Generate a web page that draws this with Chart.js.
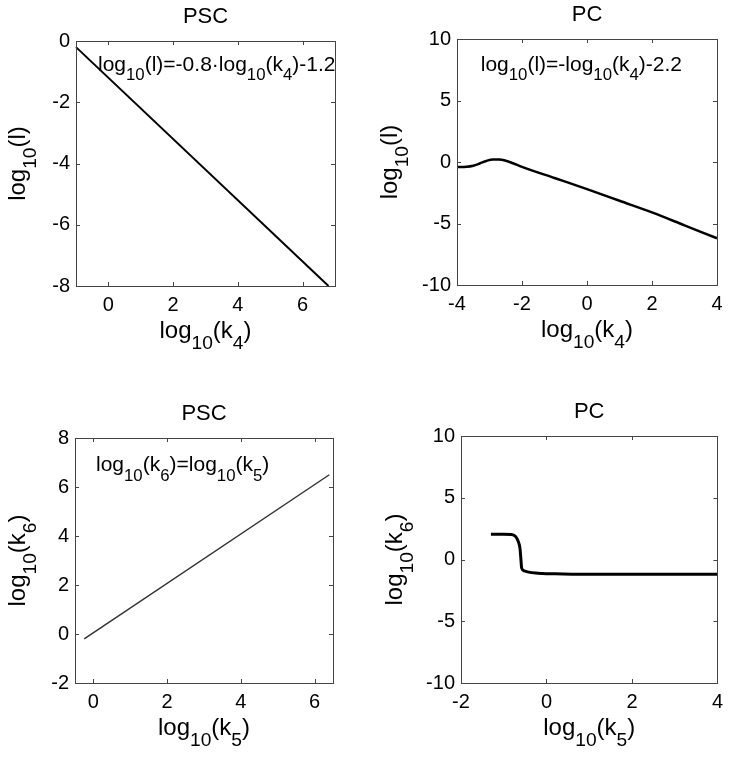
<!DOCTYPE html>
<html><head><meta charset="utf-8">
<script src="https://cdn.jsdelivr.net/npm/chart.js@4/dist/chart.umd.min.js"></script>
<style>
html,body{margin:0;padding:0;background:#fff;}
#wrap{position:relative;width:730px;height:757px;}
.cv{position:absolute;}
</style></head>
<body><div id="wrap">
<canvas id="c1" class="cv" width="365" height="378" style="left:0;top:0;width:365px;height:378px"></canvas>
<canvas id="c2" class="cv" width="365" height="378" style="left:365px;top:0;width:365px;height:378px"></canvas>
<canvas id="c3" class="cv" width="365" height="379" style="left:0;top:378px;width:365px;height:379px"></canvas>
<canvas id="c4" class="cv" width="365" height="379" style="left:365px;top:378px;width:365px;height:379px"></canvas>
</div>
<script>
// ---------- data ----------
const titles = ['PSC', 'PC', 'PSC', 'PC'];
const xTitles = ['log_{10}(k_{4})', 'log_{10}(k_{4})', 'log_{10}(k_{5})', 'log_{10}(k_{5})'];
const yTitles = ['log_{10}(l)', 'log_{10}(l)', 'log_{10}(k_{6})', 'log_{10}(k_{6})'];
const notes = ['log_{10}(l)=-0.8·log_{10}(k_{4})-1.2', 'log_{10}(l)=-log_{10}(k_{4})-2.2', 'log_{10}(k_{6})=log_{10}(k_{5})', ''];

const psc1X = [-1, 6.8];
const psc1Y = [-0.2, -8];
const pc1X = [-4, -3.7, -3.5, -3.3, -3.1, -2.9, -2.7, -2.5, -2.3, -2.0, -1.0, 0, 1, 2, 3, 4];
const pc1Y = [-0.4, -0.38, -0.3, -0.12, 0.08, 0.2, 0.2, 0.1, -0.08, -0.4, -1.3, -2.2, -3.15, -4.1, -5.15, -6.2];
const psc2X = [-0.25, 6.4];
const psc2Y = [-0.2, 6.5];
const pc2X = [-1.3, -1.0, -0.82, -0.72, -0.66, -0.62, -0.60, -0.58, -0.52, -0.42, -0.25, -0.1, 0.2, 0.6, 1.0, 2.0, 3.0, 4.0];
const pc2Y = [2.05, 2.05, 2.02, 1.85, 1.45, 0.9, 0.1, -0.7, -0.92, -1.02, -1.1, -1.13, -1.16, -1.19, -1.2, -1.2, -1.2, -1.2];

const xTicks1 = [0, 2, 4, 6];
const yTicks1 = [-8, -6, -4, -2, 0];
const xTicks2 = [-4, -2, 0, 2, 4];
const yTicks2 = [-10, -5, 0, 5, 10];
const xTicks3 = [0, 2, 4, 6];
const yTicks3 = [-2, 0, 2, 4, 6, 8];
const xTicks4 = [-2, 0, 2, 4];
const yTicks4 = [-10, -5, 0, 5, 10];

// ---------- layout / style ----------
const FAM = '"Liberation Sans", Arial, Helvetica, sans-serif';
const YW = 50, XH = 50;

function parseRich(s) {
  const parts = []; const re = /_\{([^}]*)\}/g; let last = 0, m;
  while ((m = re.exec(s))) {
    if (m.index > last) parts.push({t: s.slice(last, m.index), sub: false});
    parts.push({t: m[1], sub: true}); last = re.lastIndex;
  }
  if (last < s.length) parts.push({t: s.slice(last), sub: false});
  return parts;
}
function richWidth(ctx, parts, size) {
  let w = 0;
  for (const p of parts) { ctx.font = (p.sub ? size * 0.8 : size) + 'px ' + FAM; w += ctx.measureText(p.t).width; }
  return w;
}
function drawRich(ctx, s, x, y, size, align) {
  const parts = parseRich(s);
  const w = richWidth(ctx, parts, size);
  let cx = align === 'center' ? x - w / 2 : x;
  ctx.textBaseline = 'alphabetic'; ctx.textAlign = 'left'; ctx.fillStyle = '#000';
  for (const p of parts) {
    ctx.font = (p.sub ? size * 0.8 : size) + 'px ' + FAM;
    ctx.fillText(p.t, cx, p.sub ? y + size * 0.45 : y);
    cx += ctx.measureText(p.t).width;
  }
}

const decor = {
  id: 'decor',
  afterDraw(chart, args, o) {
    const ctx = chart.ctx, a = chart.chartArea, xs = chart.scales.x, ys = chart.scales.y;
    ctx.save();
    ctx.strokeStyle = '#444'; ctx.lineWidth = 1;
    ctx.beginPath();
    for (const v of o.xt) {
      const px = Math.round(xs.getPixelForValue(v)) + 0.5;
      ctx.moveTo(px, a.bottom); ctx.lineTo(px, a.bottom - 4);
      ctx.moveTo(px, a.top); ctx.lineTo(px, a.top + 4);
    }
    for (const v of o.yt) {
      const py = Math.round(ys.getPixelForValue(v)) + 0.5;
      ctx.moveTo(a.left, py); ctx.lineTo(a.left + 4, py);
      ctx.moveTo(a.right, py); ctx.lineTo(a.right - 4, py);
    }
    ctx.stroke();
    ctx.strokeRect(Math.round(a.left) + 0.5, Math.round(a.top) + 0.5, Math.round(a.right - a.left), Math.round(a.bottom - a.top));
    // title
    ctx.fillStyle = '#000'; ctx.font = '22px ' + FAM; ctx.textAlign = 'center'; ctx.textBaseline = 'alphabetic';
    ctx.fillText(o.title, (a.left + a.right) / 2, a.top - 18);
    // x title
    drawRich(ctx, o.xTitle, (a.left + a.right) / 2, a.bottom + 52, 24, 'center');
    // y title
    ctx.save();
    ctx.translate(a.left - o.yOff, (a.top + a.bottom) / 2);
    ctx.rotate(-Math.PI / 2);
    drawRich(ctx, o.yTitle, 0, 0, 24, 'center');
    ctx.restore();
    // note
    if (o.note) drawRich(ctx, o.note, xs.getPixelForValue(o.noteX), ys.getPixelForValue(o.noteY), 21, 'left');
    ctx.restore();
  }
};

function make(id, box, plot, X, Y, xr, yr, xt, yt, line, opts) {
  const pts = X.map((v, i) => ({x: v, y: Y[i]}));
  const tickFont = {family: FAM, size: 20};
  new Chart(document.getElementById(id), {
    type: 'line',
    data: {datasets: [{data: pts, borderColor: line.color, borderWidth: line.width, pointRadius: 0,
      fill: false, cubicInterpolationMode: 'monotone', clip: false}]},
    options: {
      responsive: false, animation: false, events: [],
      layout: {padding: {left: plot.l - box.x - YW, top: plot.t - box.y, right: box.x + box.w - plot.r, bottom: box.y + box.h - plot.b - XH}},
      plugins: {legend: {display: false}, tooltip: {enabled: false}, title: {display: false}, decor: opts},
      scales: {
        x: {type: 'linear', min: xr[0], max: xr[1], grid: {display: false, drawTicks: false}, border: {display: false},
          ticks: {font: tickFont, color: '#000', padding: 7, maxRotation: 0},
          afterBuildTicks: s => { s.ticks = xt.map(v => ({value: v})); },
          afterFit: s => { s.height = XH; }},
        y: {type: 'linear', min: yr[0], max: yr[1], grid: {display: false, drawTicks: false}, border: {display: false},
          ticks: {font: tickFont, color: '#000', padding: 6},
          afterBuildTicks: s => { s.ticks = yt.map(v => ({value: v})); },
          afterFit: s => { s.width = YW; }}
      }
    },
    plugins: [decor]
  });
}

make('c1', {x: 0, y: 0, w: 365, h: 378}, {l: 76, t: 41, r: 335, b: 286}, psc1X, psc1Y, [-1, 7], [-8, 0], xTicks1, yTicks1,
  {color: '#000', width: 2}, {xt: xTicks1, yt: yTicks1, title: titles[0], xTitle: xTitles[0], yTitle: yTitles[0], yOff: 51, note: notes[0], noteX: -0.32, noteY: -0.98});
make('c2', {x: 365, y: 0, w: 365, h: 378}, {l: 457, t: 39, r: 717, b: 285}, pc1X, pc1Y, [-4, 4], [-10, 10], xTicks2, yTicks2,
  {color: '#000', width: 2.5}, {xt: xTicks2, yt: yTicks2, title: titles[1], xTitle: xTitles[1], yTitle: yTitles[1], yOff: 60, note: notes[1], noteX: -3.27, noteY: 7.42});
make('c3', {x: 0, y: 378, w: 365, h: 379}, {l: 75, t: 438, r: 333, b: 683}, psc2X, psc2Y, [-0.5, 6.5], [-2, 8], xTicks3, yTicks3,
  {color: '#333', width: 1.5}, {xt: xTicks3, yt: yTicks3, title: titles[2], xTitle: xTitles[2], yTitle: yTitles[2], yOff: 50, note: notes[2], noteX: 0.07, noteY: 6.64});
make('c4', {x: 365, y: 378, w: 365, h: 379}, {l: 461, t: 436, r: 718, b: 683}, pc2X, pc2Y, [-2, 4], [-10, 10], xTicks4, yTicks4,
  {color: '#000', width: 3}, {xt: xTicks4, yt: yTicks4, title: titles[3], xTitle: xTitles[3], yTitle: yTitles[3], yOff: 59, note: notes[3]});
</script>
</body></html>
